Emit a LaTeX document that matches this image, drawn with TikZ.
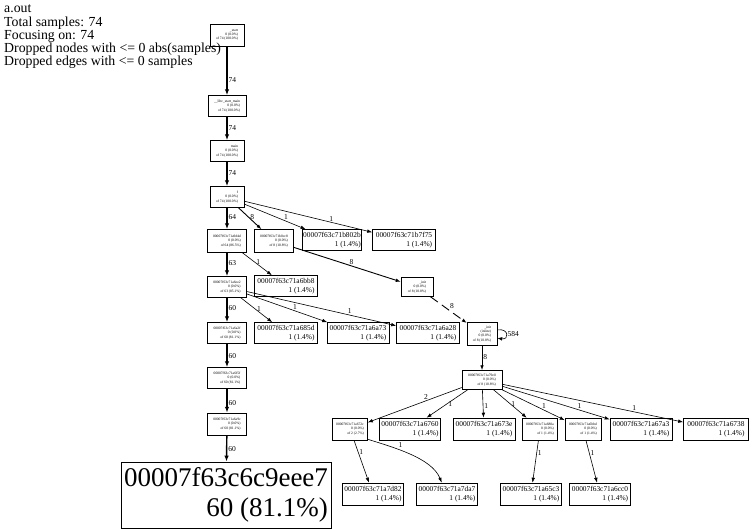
\documentclass[tikz,border=0pt]{standalone}
\usepackage{fontspec}
\setmainfont{Liberation Serif}
\usetikzlibrary{arrows.meta}
\begin{document}
\begin{tikzpicture}[x=1pt,y=-1pt,
  fn/.style={draw=black, line width=0.5pt, inner sep=0.8pt, align=right,
    font=\fontsize{3.6}{4.3}\selectfont},
  leaf/.style={draw=black, line width=0.6pt, inner sep=1pt, align=right,
    font=\fontsize{7.4}{8.6}\selectfont, minimum height=21pt},
  big/.style={draw=black, line width=0.8pt, inner sep=2pt, align=right,
    font=\fontsize{27}{30}\selectfont},
  e/.style={-{Latex[length=5pt,width=3.6pt]}, line width=0.6pt},
  em/.style={e, line width=0.9pt},
  eh/.style={-{Latex[length=6pt,width=4.5pt]}, line width=1.4pt},
  lbl/.style={font=\fontsize{7.5}{8}\selectfont, inner sep=1pt},
]
\useasboundingbox (0,0) rectangle (753,530);

% header
\node[anchor=north west, align=left, inner sep=0pt,
  font=\fontsize{13.8}{13.2}\selectfont] (title) at (4,5)
  {a.out\\Total samples: 74\\Focusing on: 74\\Dropped nodes with <= 0 abs(samples)\\Dropped edges with <= 0 samples};

% main call chain
\node[fn, minimum width=34pt, minimum height=22pt] (n1) at (227,35) {\_start\\0 (0.0\%)\\of 74 (100.0\%)};
\node[fn, minimum width=38pt, minimum height=21pt] (n2) at (227,106) {\_\_libc\_start\_main\\0 (0.0\%)\\of 74 (100.0\%)};
\node[fn, minimum width=34pt, minimum height=21pt] (n3) at (227,151) {main\\0 (0.0\%)\\of 74 (100.0\%)};
\node[fn, minimum width=34pt, minimum height=21pt] (n4) at (227,197) {f\\0 (0.0\%)\\of 74 (100.0\%)};
\node[fn, minimum width=39pt, minimum height=23pt] (n5) at (227,241) {00007f63c71a9d4d\\0 (0.0\%)\\of 64 (86.5\%)};
\node[fn, minimum width=39pt, minimum height=23pt] (n6) at (274,241) {00007f63c71b0cc8\\0 (0.0\%)\\of 8 (10.8\%)};
\node[leaf, minimum width=59pt] (n7) at (332,240) {00007f63c71b802b\\1 (1.4\%)};
\node[leaf, minimum width=63pt] (n8) at (404,240) {00007f63c71b7f75\\1 (1.4\%)};
\node[fn, minimum width=39pt, minimum height=21pt] (n9) at (227,287) {00007f63c71a6ee2\\0 (0.0\%)\\of 63 (85.1\%)};
\node[leaf, minimum width=63pt] (n10) at (286,286) {00007f63c71a6bb8\\1 (1.4\%)};
\node[fn, minimum width=32pt, minimum height=19pt] (n11) at (417,287) {\_init\\0 (0.0\%)\\of 8 (10.8\%)};
\node[fn, minimum width=39pt, minimum height=21pt] (n12) at (227,333) {00007f63c71a6a2f\\0 (0.0\%)\\of 60 (81.1\%)};
\node[leaf, minimum width=63pt] (n13) at (286,333) {00007f63c71a685d\\1 (1.4\%)};
\node[leaf, minimum width=62pt] (n14) at (358,333) {00007f63c71a6a73\\1 (1.4\%)};
\node[leaf, minimum width=63pt] (n15) at (428,333) {00007f63c71a6a28\\1 (1.4\%)};
\node[fn, minimum width=30pt, minimum height=23pt] (n16) at (482,334) {\_init\\(inline)\\0 (0.0\%)\\of 8 (10.8\%)};
\node[fn, minimum width=39pt, minimum height=21pt] (n17) at (227,378) {00007f63c71a6f5f\\0 (0.0\%)\\of 60 (81.1\%)};
\node[fn, minimum width=39pt, minimum height=22pt] (n18) at (227,424) {00007f63c71a6a9c\\0 (0.0\%)\\of 60 (81.1\%)};
\node[big, minimum width=210pt, minimum height=66pt] (n19) at (226,495) {00007f63c6c9eee7\\60 (81.1\%)};

% right-hand subtree
\node[fn, minimum width=40pt, minimum height=19pt] (n20) at (482,380) {00007f63c71a79e0\\0 (0.0\%)\\of 8 (10.8\%)};
\node[fn, minimum width=35pt, minimum height=22pt] (n21) at (350,429) {00007f63c71a672c\\0 (0.0\%)\\of 2 (2.7\%)};
\node[leaf, minimum width=61pt, minimum height=22pt] (n22) at (410,429) {00007f63c71a6760\\1 (1.4\%)};
\node[leaf, minimum width=62pt, minimum height=22pt] (n23) at (484,429) {00007f63c71a673e\\1 (1.4\%)};
\node[fn, minimum width=35pt, minimum height=22pt] (n24) at (540,429) {00007f63c71a680a\\0 (0.0\%)\\of 1 (1.4\%)};
\node[fn, minimum width=36pt, minimum height=22pt] (n25) at (583,429) {00007f63c71a6bbd\\0 (0.0\%)\\of 1 (1.4\%)};
\node[leaf, minimum width=62pt, minimum height=22pt] (n26) at (641,429) {00007f63c71a67a3\\1 (1.4\%)};
\node[leaf, minimum width=65pt, minimum height=22pt] (n27) at (716,429) {00007f63c71a6738\\1 (1.4\%)};
\node[leaf, minimum width=61pt, minimum height=22pt] (n28) at (373,494) {00007f63c71a7d82\\1 (1.4\%)};
\node[leaf, minimum width=61pt, minimum height=22pt] (n29) at (447,494) {00007f63c71a7da7\\1 (1.4\%)};
\node[leaf, minimum width=61pt, minimum height=22pt] (n30) at (531,494) {00007f63c71a65c3\\1 (1.4\%)};
\node[leaf, minimum width=61pt, minimum height=22pt] (n31) at (600,494) {00007f63c71a6cc0\\1 (1.4\%)};

% edges of the main chain
\draw[eh] (n1) -- node[lbl,pos=0.68,anchor=west]{74} (n2);
\draw[eh] (n2) -- node[lbl,pos=0.46,anchor=west]{74} (n3);
\draw[eh] (n3) -- node[lbl,pos=0.48,anchor=west]{74} (n4);
\draw[eh] (n4) -- node[lbl,pos=0.45,anchor=west]{64} (n5);
\draw[em] (n4) -- node[lbl,pos=0.45,anchor=west]{8} (n6);
\draw[e] (n4) -- node[lbl,pos=0.68,anchor=south]{1} (n7);
\draw[e] (n4) -- node[lbl,pos=0.68,anchor=south]{1} (n8);
\draw[eh] (n5) -- node[lbl,pos=0.42,anchor=west]{63} (n9);
\draw[e] (n5) -- node[lbl,pos=0.43,anchor=west]{1} (n10);
\draw[em] (n6) -- node[lbl,pos=0.54,anchor=south]{8} (n11);
\draw[eh] (n9) -- node[lbl,pos=0.4,anchor=west]{60} (n12);
\draw[e] (n9) -- node[lbl,pos=0.48,anchor=west]{1} (n13);
\draw[e] (n9) -- node[lbl,pos=0.6,anchor=south]{1} (n14);
\draw[e] (n9) -- node[lbl,pos=0.69,anchor=south]{1} (n15);
\draw[em, dash pattern=on 9pt off 5pt] (n11) -- node[lbl,pos=0.5,anchor=south west]{8} (n16);
\draw[e] (n16.15) .. controls +(12,-2) and +(12,2) .. node[lbl,anchor=west]{584} (n16.-15);
\draw[em] (n16) -- node[lbl,pos=0.45,anchor=west]{8} (n20);
\draw[eh] (n12) -- node[lbl,pos=0.54,anchor=west]{60} (n17);
\draw[eh] (n17) -- node[lbl,pos=0.58,anchor=west]{60} (n18);
\draw[eh] (n18) -- node[lbl,pos=0.52,anchor=west]{60} (n19);

% edges of the right-hand subtree
\draw[e] (n20) -- node[lbl,pos=0.38,anchor=south]{2} (n21);
\draw[e] (n20) -- node[lbl,pos=0.5,anchor=west]{1} (n22);
\draw[e] (n20) -- node[lbl,pos=0.6,anchor=west]{1} (n23);
\draw[e] (n20) -- node[lbl,pos=0.5,anchor=west]{1} (n24);
\draw[e] (n20) -- node[lbl,pos=0.67,anchor=south]{1} (n25);
\draw[e] (n20) -- node[lbl,pos=0.72,anchor=south]{1} (n26);
\draw[e] (n20) -- node[lbl,pos=0.73,anchor=south]{1} (n27);
\draw[e] (n21) -- node[lbl,pos=0.28,anchor=west]{1} (n28);
\draw[e] (n21.-30) .. controls +(25,8) and +(-10,-25) .. node[lbl,pos=0.35,anchor=south west]{1} (n29.115);
\draw[e] (n24) -- node[lbl,pos=0.3,anchor=west]{1} (n30);
\draw[e] (n25) -- node[lbl,pos=0.3,anchor=west]{1} (n31);
\end{tikzpicture}
\end{document}
